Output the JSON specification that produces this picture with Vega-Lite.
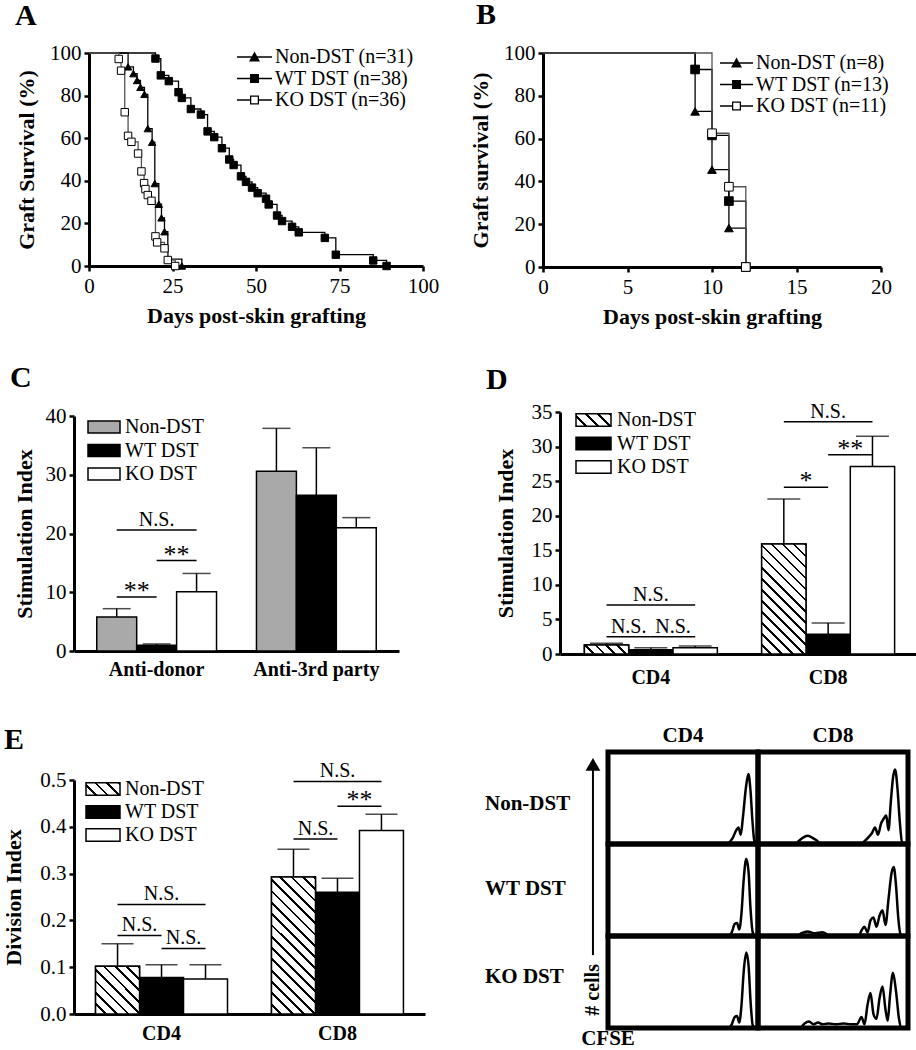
{
"$schema": "https://vega.github.io/schema/vega-lite/v6.json",
"padding": {"left": 2, "top": 0, "right": 0, "bottom": 0},
"background": "white",
"config": {
  "font": "Liberation Serif",
  "view": {"stroke": null},
  "axis": {"labelFont": "Liberation Serif", "labelFontSize": 21, "labelColor": "black", "titleFont": "Liberation Serif", "titleFontSize": 22, "titleFontWeight": "bold", "titleColor": "black", "domainColor": "black", "domainWidth": 3, "tickColor": "black", "tickWidth": 2.5, "tickSize": 5, "grid": false, "labelPadding": 3, "labelFlush": false},
  "legend": {"labelFont": "Liberation Serif", "labelFontSize": 20, "labelColor": "black"},
  "title": {"font": "Liberation Serif", "fontSize": 30, "fontWeight": "bold", "color": "black", "anchor": "start", "frame": "group", "baseline": "alphabetic"},
  "header": {"labelFont": "Liberation Serif", "labelFontSize": 21, "labelFontWeight": "bold", "labelColor": "black"},
  "text": {"font": "Liberation Serif", "color": "black"}
},
"spacing": 30,
"resolve": {"scale": {"fill": "independent", "shape": "independent", "stroke": "independent"}, "legend": {"fill": "independent", "shape": "independent", "stroke": "independent"}},
"hconcat": [
{
  "spacing": 37,
  "resolve": {"scale": {"fill": "independent", "shape": "independent", "stroke": "independent"}, "legend": {"fill": "independent", "shape": "independent", "stroke": "independent"}},
  "vconcat": [
  {
    "title": {"text": "A", "dx": -59, "offset": 11},
    "width": 349, "height": 213,
    "data": {"values": [
      {"group":"Non-DST (n=31)","day":0,"surv":100},
      {"group":"Non-DST (n=31)","day":11.7,"surv":93.5},
      {"group":"Non-DST (n=31)","day":13.3,"surv":90.3},
      {"group":"Non-DST (n=31)","day":14.4,"surv":87.1},
      {"group":"Non-DST (n=31)","day":15.4,"surv":83.9},
      {"group":"Non-DST (n=31)","day":16.6,"surv":80.6},
      {"group":"Non-DST (n=31)","day":17.6,"surv":64.5},
      {"group":"Non-DST (n=31)","day":18.9,"surv":58.1},
      {"group":"Non-DST (n=31)","day":19.7,"surv":38.7},
      {"group":"Non-DST (n=31)","day":20.9,"surv":29},
      {"group":"Non-DST (n=31)","day":21.7,"surv":22.6},
      {"group":"Non-DST (n=31)","day":22.6,"surv":16.1},
      {"group":"Non-DST (n=31)","day":23.6,"surv":3.2},
      {"group":"Non-DST (n=31)","day":27.8,"surv":0},
      {"group":"WT DST (n=38)","day":0,"surv":100},
      {"group":"WT DST (n=38)","day":19.9,"surv":97.4},
      {"group":"WT DST (n=38)","day":21.5,"surv":89.5},
      {"group":"WT DST (n=38)","day":23.9,"surv":86.8},
      {"group":"WT DST (n=38)","day":26.8,"surv":81.6},
      {"group":"WT DST (n=38)","day":27.8,"surv":78.9},
      {"group":"WT DST (n=38)","day":30.5,"surv":73.7},
      {"group":"WT DST (n=38)","day":33.5,"surv":71.1},
      {"group":"WT DST (n=38)","day":35.5,"surv":63.2},
      {"group":"WT DST (n=38)","day":37.5,"surv":60.5},
      {"group":"WT DST (n=38)","day":39.8,"surv":55.3},
      {"group":"WT DST (n=38)","day":42,"surv":50},
      {"group":"WT DST (n=38)","day":43.3,"surv":47.4},
      {"group":"WT DST (n=38)","day":45.5,"surv":42.1},
      {"group":"WT DST (n=38)","day":47,"surv":39.5},
      {"group":"WT DST (n=38)","day":48.8,"surv":36.8},
      {"group":"WT DST (n=38)","day":50.5,"surv":34.2},
      {"group":"WT DST (n=38)","day":53,"surv":31.6},
      {"group":"WT DST (n=38)","day":53.8,"surv":28.9},
      {"group":"WT DST (n=38)","day":56.3,"surv":23.7},
      {"group":"WT DST (n=38)","day":57.8,"surv":21.1},
      {"group":"WT DST (n=38)","day":60.8,"surv":18.4},
      {"group":"WT DST (n=38)","day":62.8,"surv":15.8},
      {"group":"WT DST (n=38)","day":70.6,"surv":13.2},
      {"group":"WT DST (n=38)","day":73.9,"surv":5.3},
      {"group":"WT DST (n=38)","day":85.1,"surv":2.6},
      {"group":"WT DST (n=38)","day":89.1,"surv":0},
      {"group":"KO DST (n=36)","day":0,"surv":100},
      {"group":"KO DST (n=36)","day":8.9,"surv":97.2},
      {"group":"KO DST (n=36)","day":9.6,"surv":91.7},
      {"group":"KO DST (n=36)","day":10.7,"surv":72.2},
      {"group":"KO DST (n=36)","day":11.7,"surv":61.1},
      {"group":"KO DST (n=36)","day":12.7,"surv":58.3},
      {"group":"KO DST (n=36)","day":14.7,"surv":52.8},
      {"group":"KO DST (n=36)","day":15.7,"surv":44.4},
      {"group":"KO DST (n=36)","day":16.5,"surv":38.9},
      {"group":"KO DST (n=36)","day":16.9,"surv":36.1},
      {"group":"KO DST (n=36)","day":17.6,"surv":33.3},
      {"group":"KO DST (n=36)","day":18.7,"surv":30.6},
      {"group":"KO DST (n=36)","day":19.9,"surv":13.9},
      {"group":"KO DST (n=36)","day":20.4,"surv":11.1},
      {"group":"KO DST (n=36)","day":22.6,"surv":8.3},
      {"group":"KO DST (n=36)","day":23.6,"surv":2.8},
      {"group":"KO DST (n=36)","day":25.8,"surv":0}
    ]},
    "encoding": {
      "x": {"field":"day","type":"quantitative","scale":{"domain":[0,100],"range":[15,349],"nice":false,"zero":false},"axis":{"values":[0,25,50,75,100],"title":"Days post-skin grafting","titlePadding":9,"labelPadding":4}},
      "y": {"field":"surv","type":"quantitative","scale":{"domain":[0,100],"nice":false},"axis":{"values":[0,20,40,60,80,100],"title":"Graft Survival (%)","titlePadding":11,"offset":-15}}
    },
    "layer": [
      {"mark":{"type":"line","interpolate":"step-after","strokeWidth":1.3},
       "encoding":{"detail":{"field":"group"},"stroke":{"field":"group","type":"nominal","scale":{"domain":["Non-DST (n=31)","WT DST (n=38)","KO DST (n=36)"],"range":["black","black","#555555"]},"legend":null}}},
      {"transform":[{"filter":"datum.day > 0"}],
       "mark":{"type":"point","filled":true,"stroke":"black","strokeWidth":1,"size":55,"opacity":1},
       "encoding":{"shape":{"field":"group","type":"nominal","scale":{"domain":["Non-DST (n=31)","WT DST (n=38)","KO DST (n=36)"],"range":["triangle-up","square","square"]},"legend":null},
                   "fill":{"field":"group","type":"nominal","scale":{"domain":["Non-DST (n=31)","WT DST (n=38)","KO DST (n=36)"],"range":["black","black","white"]},"legend":null}}},
      {"transform":[{"filter":"false"}],
       "mark":{"type":"point","filled":true,"color":"black"},
       "encoding":{"shape":{"field":"group","type":"nominal","scale":{"domain":["Non-DST (n=31)","WT DST (n=38)","KO DST (n=36)"],"range":["M-3.5,-0.15H3.5V0.15H-3.5ZM0,-1.1L1.1,0.9H-1.1Z","M-3.5,-0.15H3.5V0.15H-3.5ZM-0.9,-0.9H0.9V0.9H-0.9Z","M-3.5,-0.15H-0.9V0.15H-3.5ZM0.9,-0.15H3.5V0.15H0.9ZM-0.9,-0.9H0.9V0.9H-0.9ZM-0.65,-0.65V0.65H0.65V-0.65Z"]},
                      "legend":{"title":null,"orient":"none","legendX":163,"legendY":-6,"symbolSize":100,"symbolOpacity":1,"symbolFillColor":"black","symbolStrokeWidth":0,"labelFontSize":20,"symbolOffset":7.5,"labelOffset":10.5,"rowPadding":1.5,"padding":0}}}}
    ],
    "resolve": {"scale": {"shape": "independent"}}
  },
  {
    "spacing": 45,
    "resolve": {"scale": {"fill": "independent", "shape": "independent", "stroke": "independent"}, "legend": {"fill": "independent", "shape": "independent", "stroke": "independent"}},
    "vconcat": [
    {
      "title": {"text": "C", "dx": -64, "offset": 12},
      "width": 325, "height": 235,
      "layer": [
        {
          "data": {"values": [
            {"grp":"Anti-donor","trt":"Non-DST","mean":5.8,"hi":7.2},
            {"grp":"Anti-donor","trt":"WT DST","mean":1.0,"hi":1.2},
            {"grp":"Anti-donor","trt":"KO DST","mean":10.1,"hi":13.2},
            {"grp":"Anti-3rd party","trt":"Non-DST","mean":30.6,"hi":37.9},
            {"grp":"Anti-3rd party","trt":"WT DST","mean":26.5,"hi":34.6},
            {"grp":"Anti-3rd party","trt":"KO DST","mean":21.0,"hi":22.7}
          ]},
          "transform": [{"calculate": "datum.grp + '|' + datum.trt", "as": "slot"}],
          "encoding": {
            "x": {"field":"slot","type":"nominal","scale":{"domain":["Anti-donor|Non-DST","Anti-donor|WT DST","Anti-donor|KO DST","gap","Anti-3rd party|Non-DST","Anti-3rd party|WT DST","Anti-3rd party|KO DST"],"paddingInner":0,"paddingOuter":0.57},
                  "axis":{"title":null,"ticks":false,"labelAngle":0,"labelFontWeight":"bold","labelFontSize":20,"labelPadding":8,"labelOverlap":false,"labelExpr":"indexof(datum.value, 'WT DST') >= 0 ? split(datum.value, '|')[0] : ''"}},
            "y": {"field":"mean","type":"quantitative","scale":{"domain":[0,40],"nice":false},"axis":{"values":[0,10,20,30,40],"title":"Stimulation Index","titlePadding":9}}
          },
          "layer": [
            {"mark":{"type":"bar","stroke":"black","strokeWidth":1.5},
             "encoding":{"fill":{"field":"trt","type":"nominal","scale":{"domain":["Non-DST","WT DST","KO DST"],"range":["#a9a9a9","black","white"]},
               "legend":{"title":null,"orient":"none","legendX":14,"legendY":1,"symbolType":"M-3.2,-1.2H3.2V1.2H-3.2Z","symbolSize":100,"symbolStrokeColor":"black","symbolStrokeWidth":1.5,"labelFontSize":20,"symbolOffset":6,"labelOffset":11,"rowPadding":3.5,"padding":0}}}},
            {"mark":{"type":"rule","strokeWidth":1.5,"color":"black"},"encoding":{"y2":{"field":"hi"}}},
            {"mark":{"type":"tick","thickness":1.5,"size":28,"color":"black"},"encoding":{"y":{"field":"hi","type":"quantitative","scale":{"domain":[0,40],"nice":false},"axis":{"values":[0,10,20,30,40],"title":"Stimulation Index","titlePadding":9}}}}
          ]
        },
        {
          "data": {"values": [
            {"a":"Anti-donor|Non-DST","b":"Anti-donor|WT DST","y":9.2,"label":"**","span":1},
            {"a":"Anti-donor|WT DST","b":"Anti-donor|KO DST","y":15.4,"label":"**","span":1},
            {"a":"Anti-donor|Non-DST","b":"Anti-donor|KO DST","y":20.6,"label":"N.S.","span":2}
          ]},
          "encoding": {"y": {"field":"y","type":"quantitative","scale":{"domain":[0,40],"nice":false},"axis":{"values":[0,10,20,30,40],"title":"Stimulation Index","titlePadding":9}}},
          "layer": [
            {"mark":{"type":"rule","strokeWidth":1.5,"color":"black"},
             "encoding":{"x":{"field":"a","type":"nominal","scale":{"domain":["Anti-donor|Non-DST","Anti-donor|WT DST","Anti-donor|KO DST","gap","Anti-3rd party|Non-DST","Anti-3rd party|WT DST","Anti-3rd party|KO DST"],"paddingInner":0,"paddingOuter":0.57},"axis":{"title":null,"ticks":false,"labelAngle":0,"labelFontWeight":"bold","labelFontSize":20,"labelPadding":8,"labelOverlap":false,"labelExpr":"indexof(datum.value, 'WT DST') >= 0 ? split(datum.value, '|')[0] : ''"}},"x2":{"field":"b"}}},
            {"transform":[{"filter":"datum.span == 2"}],
             "mark":{"type":"text","fontSize":20,"baseline":"alphabetic","dy":-4},
             "encoding":{"x":{"field":"a","type":"nominal","bandPosition":1.5,"scale":{"domain":["Anti-donor|Non-DST","Anti-donor|WT DST","Anti-donor|KO DST","gap","Anti-3rd party|Non-DST","Anti-3rd party|WT DST","Anti-3rd party|KO DST"],"paddingInner":0,"paddingOuter":0.57},"axis":{"title":null,"ticks":false,"labelAngle":0,"labelFontWeight":"bold","labelFontSize":20,"labelPadding":8,"labelOverlap":false,"labelExpr":"indexof(datum.value, 'WT DST') >= 0 ? split(datum.value, '|')[0] : ''"}},"text":{"field":"label"}}},
            {"transform":[{"filter":"datum.span == 1 && datum.label != 'N.S.'"}],
             "mark":{"type":"text","fontSize":26,"baseline":"alphabetic","dy":2},
             "encoding":{"x":{"field":"a","type":"nominal","bandPosition":1,"scale":{"domain":["Anti-donor|Non-DST","Anti-donor|WT DST","Anti-donor|KO DST","gap","Anti-3rd party|Non-DST","Anti-3rd party|WT DST","Anti-3rd party|KO DST"],"paddingInner":0,"paddingOuter":0.57},"axis":{"title":null,"ticks":false,"labelAngle":0,"labelFontWeight":"bold","labelFontSize":20,"labelPadding":8,"labelOverlap":false,"labelExpr":"indexof(datum.value, 'WT DST') >= 0 ? split(datum.value, '|')[0] : ''"}},"text":{"field":"label"}}}
          ]
        }
      ]
    },
    {
      "title": {"text": "E", "dx": -70, "offset": 6.5},
      "width": 351, "height": 234,
      "layer": [
        {
          "data": {"values": [
            {"grp":"CD4","trt":"Non-DST","mean":0.102,"hi":0.15},
            {"grp":"CD4","trt":"WT DST","mean":0.078,"hi":0.105},
            {"grp":"CD4","trt":"KO DST","mean":0.075,"hi":0.105},
            {"grp":"CD8","trt":"Non-DST","mean":0.293,"hi":0.352},
            {"grp":"CD8","trt":"WT DST","mean":0.26,"hi":0.29},
            {"grp":"CD8","trt":"KO DST","mean":0.392,"hi":0.427}
          ]},
          "transform": [{"calculate": "datum.grp + '|' + datum.trt", "as": "slot"}],
          "encoding": {
            "x": {"field":"slot","type":"nominal","scale":{"domain":["CD4|Non-DST","CD4|WT DST","CD4|KO DST","gap","CD8|Non-DST","CD8|WT DST","CD8|KO DST"],"paddingInner":0,"paddingOuter":0.49},
                  "axis":{"title":null,"ticks":false,"labelAngle":0,"labelFontWeight":"bold","labelFontSize":20,"labelPadding":9,"labelOverlap":false,"labelExpr":"indexof(datum.value, 'WT DST') >= 0 ? split(datum.value, '|')[0] : ''"}},
            "y": {"field":"mean","type":"quantitative","scale":{"domain":[0,0.5],"nice":false},"axis":{"values":[0,0.1,0.2,0.3,0.4,0.5],"format":".1f","title":"Division Index","titlePadding":14}}
          },
          "layer": [
            {"mark":{"type":"bar","stroke":"black","strokeWidth":1.5},
             "encoding":{"fill":{"field":"trt","type":"nominal","scale":{"domain":["Non-DST","WT DST","KO DST"],"range":[{"expr":"{gradient:'linear',x1:1,y1:0,x2:-0.205,y2:0.443,stops:[{offset:0,color:'#000'},{offset:0.0625,color:'#000'},{offset:0.0625,color:'#fff'},{offset:0.25,color:'#fff'},{offset:0.25,color:'#000'},{offset:0.3125,color:'#000'},{offset:0.3125,color:'#fff'},{offset:0.5,color:'#fff'},{offset:0.5,color:'#000'},{offset:0.5625,color:'#000'},{offset:0.5625,color:'#fff'},{offset:0.75,color:'#fff'},{offset:0.75,color:'#000'},{offset:0.8125,color:'#000'},{offset:0.8125,color:'#fff'},{offset:1,color:'#fff'}]}"},"black","white"]},
               "legend":{"title":null,"orient":"none","legendX":12,"legendY":-1,"symbolType":"M-3.4,-1.25H3.4V1.25H-3.4Z","symbolSize":100,"symbolStrokeColor":"black","symbolStrokeWidth":1.5,"labelFontSize":20,"symbolOffset":7,"labelOffset":12,"rowPadding":3,"padding":0}}}},
            {"transform":[{"filter":"datum.trt == 'Non-DST' && datum.grp == 'CD4'"}],
             "mark":{"type":"bar","stroke":"black","strokeWidth":1.5,"fill":{"gradient":"linear","x1":1,"y1":0,"x2":0.042,"y2":1.039,"stops":[
               {"offset":0,"color":"#000"},{"offset":0.0313,"color":"#000"},{"offset":0.0313,"color":"#fff"},{"offset":0.125,"color":"#fff"},
               {"offset":0.125,"color":"#000"},{"offset":0.1563,"color":"#000"},{"offset":0.1563,"color":"#fff"},{"offset":0.25,"color":"#fff"},
               {"offset":0.25,"color":"#000"},{"offset":0.2813,"color":"#000"},{"offset":0.2813,"color":"#fff"},{"offset":0.375,"color":"#fff"},
               {"offset":0.375,"color":"#000"},{"offset":0.4063,"color":"#000"},{"offset":0.4063,"color":"#fff"},{"offset":0.5,"color":"#fff"},
               {"offset":0.5,"color":"#000"},{"offset":0.5313,"color":"#000"},{"offset":0.5313,"color":"#fff"},{"offset":0.625,"color":"#fff"},
               {"offset":0.625,"color":"#000"},{"offset":0.6563,"color":"#000"},{"offset":0.6563,"color":"#fff"},{"offset":0.75,"color":"#fff"},
               {"offset":0.75,"color":"#000"},{"offset":0.7813,"color":"#000"},{"offset":0.7813,"color":"#fff"},{"offset":0.875,"color":"#fff"},
               {"offset":0.875,"color":"#000"},{"offset":0.9063,"color":"#000"},{"offset":0.9063,"color":"#fff"},{"offset":1,"color":"#fff"}]}}},
            {"transform":[{"filter":"datum.trt == 'Non-DST' && datum.grp == 'CD8'"}],
             "mark":{"type":"bar","stroke":"black","strokeWidth":1.5,"fill":{"gradient":"linear","x1":1,"y1":0,"x2":0.616,"y2":1.198,"stops":[
               {"offset":0,"color":"#000"},{"offset":0.0156,"color":"#000"},{"offset":0.0156,"color":"#fff"},{"offset":0.0625,"color":"#fff"},
               {"offset":0.0625,"color":"#000"},{"offset":0.0781,"color":"#000"},{"offset":0.0781,"color":"#fff"},{"offset":0.125,"color":"#fff"},
               {"offset":0.125,"color":"#000"},{"offset":0.1406,"color":"#000"},{"offset":0.1406,"color":"#fff"},{"offset":0.1875,"color":"#fff"},
               {"offset":0.1875,"color":"#000"},{"offset":0.2031,"color":"#000"},{"offset":0.2031,"color":"#fff"},{"offset":0.25,"color":"#fff"},
               {"offset":0.25,"color":"#000"},{"offset":0.2656,"color":"#000"},{"offset":0.2656,"color":"#fff"},{"offset":0.3125,"color":"#fff"},
               {"offset":0.3125,"color":"#000"},{"offset":0.3281,"color":"#000"},{"offset":0.3281,"color":"#fff"},{"offset":0.375,"color":"#fff"},
               {"offset":0.375,"color":"#000"},{"offset":0.3906,"color":"#000"},{"offset":0.3906,"color":"#fff"},{"offset":0.4375,"color":"#fff"},
               {"offset":0.4375,"color":"#000"},{"offset":0.4531,"color":"#000"},{"offset":0.4531,"color":"#fff"},{"offset":0.5,"color":"#fff"},
               {"offset":0.5,"color":"#000"},{"offset":0.5156,"color":"#000"},{"offset":0.5156,"color":"#fff"},{"offset":0.5625,"color":"#fff"},
               {"offset":0.5625,"color":"#000"},{"offset":0.5781,"color":"#000"},{"offset":0.5781,"color":"#fff"},{"offset":0.625,"color":"#fff"},
               {"offset":0.625,"color":"#000"},{"offset":0.6406,"color":"#000"},{"offset":0.6406,"color":"#fff"},{"offset":0.6875,"color":"#fff"},
               {"offset":0.6875,"color":"#000"},{"offset":0.7031,"color":"#000"},{"offset":0.7031,"color":"#fff"},{"offset":0.75,"color":"#fff"},
               {"offset":0.75,"color":"#000"},{"offset":0.7656,"color":"#000"},{"offset":0.7656,"color":"#fff"},{"offset":0.8125,"color":"#fff"},
               {"offset":0.8125,"color":"#000"},{"offset":0.8281,"color":"#000"},{"offset":0.8281,"color":"#fff"},{"offset":0.875,"color":"#fff"},
               {"offset":0.875,"color":"#000"},{"offset":0.8906,"color":"#000"},{"offset":0.8906,"color":"#fff"},{"offset":0.9375,"color":"#fff"},
               {"offset":0.9375,"color":"#000"},{"offset":0.9531,"color":"#000"},{"offset":0.9531,"color":"#fff"},{"offset":1,"color":"#fff"}]}}},
            {"mark":{"type":"rule","strokeWidth":1.5,"color":"black"},"encoding":{"y2":{"field":"hi"}}},
            {"mark":{"type":"tick","thickness":1.5,"size":32,"color":"black"},"encoding":{"y":{"field":"hi","type":"quantitative","scale":{"domain":[0,0.5],"nice":false},"axis":{"values":[0,0.1,0.2,0.3,0.4,0.5],"format":".1f","title":"Division Index","titlePadding":14}}}}
          ]
        },
        {
          "data": {"values": [
            {"a":"CD4|Non-DST","b":"CD4|WT DST","y":0.168,"label":"N.S.","span":1},
            {"a":"CD4|WT DST","b":"CD4|KO DST","y":0.14,"label":"N.S.","span":1},
            {"a":"CD4|Non-DST","b":"CD4|KO DST","y":0.234,"label":"N.S.","span":2},
            {"a":"CD8|Non-DST","b":"CD8|WT DST","y":0.374,"label":"N.S.","span":1},
            {"a":"CD8|WT DST","b":"CD8|KO DST","y":0.444,"label":"**","span":1},
            {"a":"CD8|Non-DST","b":"CD8|KO DST","y":0.497,"label":"N.S.","span":2}
          ]},
          "encoding": {"y": {"field":"y","type":"quantitative","scale":{"domain":[0,0.5],"nice":false},"axis":{"values":[0,0.1,0.2,0.3,0.4,0.5],"format":".1f","title":"Division Index","titlePadding":14}}},
          "layer": [
            {"mark":{"type":"rule","strokeWidth":1.5,"color":"black"},
             "encoding":{"x":{"field":"a","type":"nominal","scale":{"domain":["CD4|Non-DST","CD4|WT DST","CD4|KO DST","gap","CD8|Non-DST","CD8|WT DST","CD8|KO DST"],"paddingInner":0,"paddingOuter":0.49},"axis":{"title":null,"ticks":false,"labelAngle":0,"labelFontWeight":"bold","labelFontSize":20,"labelPadding":9,"labelOverlap":false,"labelExpr":"indexof(datum.value, 'WT DST') >= 0 ? split(datum.value, '|')[0] : ''"}},"x2":{"field":"b"}}},
            {"transform":[{"filter":"datum.span == 2"}],
             "mark":{"type":"text","fontSize":20,"baseline":"alphabetic","dy":-4},
             "encoding":{"x":{"field":"a","type":"nominal","bandPosition":1.5,"scale":{"domain":["CD4|Non-DST","CD4|WT DST","CD4|KO DST","gap","CD8|Non-DST","CD8|WT DST","CD8|KO DST"],"paddingInner":0,"paddingOuter":0.49},"axis":{"title":null,"ticks":false,"labelAngle":0,"labelFontWeight":"bold","labelFontSize":20,"labelPadding":9,"labelOverlap":false,"labelExpr":"indexof(datum.value, 'WT DST') >= 0 ? split(datum.value, '|')[0] : ''"}},"text":{"field":"label"}}},
            {"transform":[{"filter":"datum.span == 1 && datum.label == 'N.S.'"}],
             "mark":{"type":"text","fontSize":20,"baseline":"alphabetic","dy":-4},
             "encoding":{"x":{"field":"a","type":"nominal","bandPosition":1,"scale":{"domain":["CD4|Non-DST","CD4|WT DST","CD4|KO DST","gap","CD8|Non-DST","CD8|WT DST","CD8|KO DST"],"paddingInner":0,"paddingOuter":0.49},"axis":{"title":null,"ticks":false,"labelAngle":0,"labelFontWeight":"bold","labelFontSize":20,"labelPadding":9,"labelOverlap":false,"labelExpr":"indexof(datum.value, 'WT DST') >= 0 ? split(datum.value, '|')[0] : ''"}},"text":{"field":"label"}}},
            {"transform":[{"filter":"datum.span == 1 && datum.label != 'N.S.'"}],
             "mark":{"type":"text","fontSize":26,"baseline":"alphabetic","dy":2},
             "encoding":{"x":{"field":"a","type":"nominal","bandPosition":1,"scale":{"domain":["CD4|Non-DST","CD4|WT DST","CD4|KO DST","gap","CD8|Non-DST","CD8|WT DST","CD8|KO DST"],"paddingInner":0,"paddingOuter":0.49},"axis":{"title":null,"ticks":false,"labelAngle":0,"labelFontWeight":"bold","labelFontSize":20,"labelPadding":9,"labelOverlap":false,"labelExpr":"indexof(datum.value, 'WT DST') >= 0 ? split(datum.value, '|')[0] : ''"}},"text":{"field":"label"}}}
          ]
        }
      ]
    }
    ]
  }
  ]
},
{
  "spacing": 38,
  "resolve": {"scale": {"fill": "independent", "shape": "independent", "stroke": "independent"}, "legend": {"fill": "independent", "shape": "independent", "stroke": "independent"}},
  "vconcat": [
  {
    "title": {"text": "B", "dx": -67, "offset": 12},
    "width": 338, "height": 214,
    "data": {"values": [
      {"group":"Non-DST (n=8)","day":0,"surv":100},
      {"group":"Non-DST (n=8)","day":9,"surv":72.7},
      {"group":"Non-DST (n=8)","day":10,"surv":45.5},
      {"group":"Non-DST (n=8)","day":11,"surv":18.2},
      {"group":"Non-DST (n=8)","day":12,"surv":0},
      {"group":"WT DST (n=13)","day":0,"surv":100},
      {"group":"WT DST (n=13)","day":9,"surv":92.3},
      {"group":"WT DST (n=13)","day":10,"surv":61.5},
      {"group":"WT DST (n=13)","day":11,"surv":30.8},
      {"group":"WT DST (n=13)","day":12,"surv":0},
      {"group":"KO DST (n=11)","day":0,"surv":100},
      {"group":"KO DST (n=11)","day":10,"surv":62.5},
      {"group":"KO DST (n=11)","day":11,"surv":37.5},
      {"group":"KO DST (n=11)","day":12,"surv":0}
    ]},
    "encoding": {
      "x": {"field":"day","type":"quantitative","scale":{"domain":[0,20],"nice":false,"zero":false},"axis":{"values":[0,5,10,15,20],"title":"Days post-skin grafting","titlePadding":9,"labelPadding":4}},
      "y": {"field":"surv","type":"quantitative","scale":{"domain":[0,100],"nice":false},"axis":{"values":[0,20,40,60,80,100],"title":"Graft survival (%)","titlePadding":11}}
    },
    "layer": [
      {"mark":{"type":"line","interpolate":"step-after","strokeWidth":1.3},
       "encoding":{"detail":{"field":"group"},"stroke":{"field":"group","type":"nominal","scale":{"domain":["Non-DST (n=8)","WT DST (n=13)","KO DST (n=11)"],"range":["black","black","#555555"]},"legend":null}}},
      {"transform":[{"filter":"datum.day > 0"}],
       "mark":{"type":"point","filled":true,"stroke":"black","strokeWidth":1,"size":75,"opacity":1},
       "encoding":{"shape":{"field":"group","type":"nominal","scale":{"domain":["Non-DST (n=8)","WT DST (n=13)","KO DST (n=11)"],"range":["triangle-up","square","square"]},"legend":null},
                   "fill":{"field":"group","type":"nominal","scale":{"domain":["Non-DST (n=8)","WT DST (n=13)","KO DST (n=11)"],"range":["black","black","white"]},"legend":null}}},
      {"transform":[{"filter":"false"}],
       "mark":{"type":"point","filled":true,"color":"black"},
       "encoding":{"shape":{"field":"group","type":"nominal","scale":{"domain":["Non-DST (n=8)","WT DST (n=13)","KO DST (n=11)"],"range":["M-3.3,-0.15H3.3V0.15H-3.3ZM0,-1.1L1.1,0.9H-1.1Z","M-3.3,-0.15H3.3V0.15H-3.3ZM-0.9,-0.9H0.9V0.9H-0.9Z","M-3.3,-0.15H-0.9V0.15H-3.3ZM0.9,-0.15H3.3V0.15H0.9ZM-0.9,-0.9H0.9V0.9H-0.9ZM-0.65,-0.65V0.65H0.65V-0.65Z"]},
                      "legend":{"title":null,"orient":"none","legendX":177,"legendY":0,"symbolSize":100,"symbolOpacity":1,"symbolFillColor":"black","symbolStrokeWidth":0,"labelFontSize":20,"symbolOffset":6.5,"labelOffset":9.5,"rowPadding":1.5,"padding":0}}}}
    ],
    "resolve": {"scale": {"shape": "independent"}}
  },
  {
    "title": {"text": "D", "dx": -57, "offset": 6},
    "width": 376, "height": 242,
    "layer": [
      {
        "data": {"values": [
          {"grp":"CD4","trt":"Non-DST","mean":1.3,"hi":1.55},
          {"grp":"CD4","trt":"WT DST","mean":0.6,"hi":0.9},
          {"grp":"CD4","trt":"KO DST","mean":0.9,"hi":1.15},
          {"grp":"CD8","trt":"Non-DST","mean":15.9,"hi":22.4},
          {"grp":"CD8","trt":"WT DST","mean":2.85,"hi":4.5},
          {"grp":"CD8","trt":"KO DST","mean":27.1,"hi":31.5}
        ]},
        "transform": [{"calculate": "datum.grp + '|' + datum.trt", "as": "slot"}],
        "encoding": {
          "x": {"field":"slot","type":"nominal","scale":{"domain":["CD4|Non-DST","CD4|WT DST","CD4|KO DST","gap","CD8|Non-DST","CD8|WT DST","CD8|KO DST"],"range":[17,376],"paddingInner":0,"paddingOuter":0.55},
                "axis":{"title":null,"ticks":false,"labelAngle":0,"labelFontWeight":"bold","labelFontSize":20,"labelPadding":13,"labelOverlap":false,"labelExpr":"indexof(datum.value, 'WT DST') >= 0 ? split(datum.value, '|')[0] : ''"}},
          "y": {"field":"mean","type":"quantitative","scale":{"domain":[0,35],"nice":false},"axis":{"values":[0,5,10,15,20,25,30,35],"title":"Stimulation Index","titlePadding":14,"offset":-17}}
        },
        "layer": [
          {"mark":{"type":"bar","stroke":"black","strokeWidth":1.5},
           "encoding":{"fill":{"field":"trt","type":"nominal","scale":{"domain":["Non-DST","WT DST","KO DST"],"range":[{"expr":"{gradient:'linear',x1:1,y1:0,x2:-0.205,y2:0.443,stops:[{offset:0,color:'#000'},{offset:0.0625,color:'#000'},{offset:0.0625,color:'#fff'},{offset:0.25,color:'#fff'},{offset:0.25,color:'#000'},{offset:0.3125,color:'#000'},{offset:0.3125,color:'#fff'},{offset:0.5,color:'#fff'},{offset:0.5,color:'#000'},{offset:0.5625,color:'#000'},{offset:0.5625,color:'#fff'},{offset:0.75,color:'#fff'},{offset:0.75,color:'#000'},{offset:0.8125,color:'#000'},{offset:0.8125,color:'#fff'},{offset:1,color:'#fff'}]}"},"black","white"]},
             "legend":{"title":null,"orient":"none","legendX":33,"legendY":-2,"symbolType":"M-3.5,-1.25H3.5V1.25H-3.5Z","symbolSize":100,"symbolStrokeColor":"black","symbolStrokeWidth":1.5,"labelFontSize":20,"symbolOffset":7.5,"labelOffset":13.5,"rowPadding":3.5,"padding":0}}}},
          {"transform":[{"filter":"datum.trt == 'Non-DST' && datum.grp == 'CD4'"}],
           "mark":{"type":"bar","stroke":"black","strokeWidth":1.5,"fill":{"gradient":"linear","x1":1,"y1":0,"x2":-0.156,"y2":0.235,"stops":[
             {"offset":0,"color":"#000"},{"offset":0.05,"color":"#000"},{"offset":0.05,"color":"#fff"},{"offset":0.2,"color":"#fff"},
             {"offset":0.2,"color":"#000"},{"offset":0.25,"color":"#000"},{"offset":0.25,"color":"#fff"},{"offset":0.4,"color":"#fff"},
             {"offset":0.4,"color":"#000"},{"offset":0.45,"color":"#000"},{"offset":0.45,"color":"#fff"},{"offset":0.6,"color":"#fff"},
             {"offset":0.6,"color":"#000"},{"offset":0.65,"color":"#000"},{"offset":0.65,"color":"#fff"},{"offset":0.8,"color":"#fff"},
             {"offset":0.8,"color":"#000"},{"offset":0.85,"color":"#000"},{"offset":0.85,"color":"#fff"},{"offset":1,"color":"#fff"}]}}},
          {"transform":[{"filter":"datum.trt == 'Non-DST' && datum.grp == 'CD8'"}],
           "mark":{"type":"bar","stroke":"black","strokeWidth":1.5,"fill":{"gradient":"linear","x1":1,"y1":0,"x2":0.513,"y2":1.208,"stops":[
             {"offset":0,"color":"#000"},{"offset":0.0179,"color":"#000"},{"offset":0.0179,"color":"#fff"},{"offset":0.0714,"color":"#fff"},
             {"offset":0.0714,"color":"#000"},{"offset":0.0893,"color":"#000"},{"offset":0.0893,"color":"#fff"},{"offset":0.1429,"color":"#fff"},
             {"offset":0.1429,"color":"#000"},{"offset":0.1607,"color":"#000"},{"offset":0.1607,"color":"#fff"},{"offset":0.2143,"color":"#fff"},
             {"offset":0.2143,"color":"#000"},{"offset":0.2321,"color":"#000"},{"offset":0.2321,"color":"#fff"},{"offset":0.2857,"color":"#fff"},
             {"offset":0.2857,"color":"#000"},{"offset":0.3036,"color":"#000"},{"offset":0.3036,"color":"#fff"},{"offset":0.3571,"color":"#fff"},
             {"offset":0.3571,"color":"#000"},{"offset":0.375,"color":"#000"},{"offset":0.375,"color":"#fff"},{"offset":0.4286,"color":"#fff"},
             {"offset":0.4286,"color":"#000"},{"offset":0.4464,"color":"#000"},{"offset":0.4464,"color":"#fff"},{"offset":0.5,"color":"#fff"},
             {"offset":0.5,"color":"#000"},{"offset":0.5179,"color":"#000"},{"offset":0.5179,"color":"#fff"},{"offset":0.5714,"color":"#fff"},
             {"offset":0.5714,"color":"#000"},{"offset":0.5893,"color":"#000"},{"offset":0.5893,"color":"#fff"},{"offset":0.6429,"color":"#fff"},
             {"offset":0.6429,"color":"#000"},{"offset":0.6607,"color":"#000"},{"offset":0.6607,"color":"#fff"},{"offset":0.7143,"color":"#fff"},
             {"offset":0.7143,"color":"#000"},{"offset":0.7321,"color":"#000"},{"offset":0.7321,"color":"#fff"},{"offset":0.7857,"color":"#fff"},
             {"offset":0.7857,"color":"#000"},{"offset":0.8036,"color":"#000"},{"offset":0.8036,"color":"#fff"},{"offset":0.8571,"color":"#fff"},
             {"offset":0.8571,"color":"#000"},{"offset":0.875,"color":"#000"},{"offset":0.875,"color":"#fff"},{"offset":0.9286,"color":"#fff"},
             {"offset":0.9286,"color":"#000"},{"offset":0.9464,"color":"#000"},{"offset":0.9464,"color":"#fff"},{"offset":1,"color":"#fff"}]}}},
          {"mark":{"type":"rule","strokeWidth":1.5,"color":"black"},"encoding":{"y2":{"field":"hi"}}},
          {"mark":{"type":"tick","thickness":1.5,"size":33,"color":"black"},"encoding":{"y":{"field":"hi","type":"quantitative","scale":{"domain":[0,35],"nice":false},"axis":{"values":[0,5,10,15,20,25,30,35],"title":"Stimulation Index","titlePadding":14,"offset":-17}}}}
        ]
      },
      {
        "data": {"values": [
          {"a":"CD4|Non-DST","b":"CD4|WT DST","y":2.5,"label":"N.S.","span":1},
          {"a":"CD4|WT DST","b":"CD4|KO DST","y":2.5,"label":"N.S.","span":1},
          {"a":"CD4|Non-DST","b":"CD4|KO DST","y":7.1,"label":"N.S.","span":2},
          {"a":"CD8|Non-DST","b":"CD8|WT DST","y":24.1,"label":"*","span":1},
          {"a":"CD8|WT DST","b":"CD8|KO DST","y":28.8,"label":"**","span":1},
          {"a":"CD8|Non-DST","b":"CD8|KO DST","y":33.6,"label":"N.S.","span":2}
        ]},
        "encoding": {"y": {"field":"y","type":"quantitative","scale":{"domain":[0,35],"nice":false},"axis":{"values":[0,5,10,15,20,25,30,35],"title":"Stimulation Index","titlePadding":14,"offset":-17}}},
        "layer": [
          {"mark":{"type":"rule","strokeWidth":1.5,"color":"black"},
           "encoding":{"x":{"field":"a","type":"nominal","scale":{"domain":["CD4|Non-DST","CD4|WT DST","CD4|KO DST","gap","CD8|Non-DST","CD8|WT DST","CD8|KO DST"],"range":[17,376],"paddingInner":0,"paddingOuter":0.55},"axis":{"title":null,"ticks":false,"labelAngle":0,"labelFontWeight":"bold","labelFontSize":20,"labelPadding":13,"labelOverlap":false,"labelExpr":"indexof(datum.value, 'WT DST') >= 0 ? split(datum.value, '|')[0] : ''"}},"x2":{"field":"b"}}},
          {"transform":[{"filter":"datum.span == 2"}],
           "mark":{"type":"text","fontSize":20,"baseline":"alphabetic","dy":-4},
           "encoding":{"x":{"field":"a","type":"nominal","bandPosition":1.5,"scale":{"domain":["CD4|Non-DST","CD4|WT DST","CD4|KO DST","gap","CD8|Non-DST","CD8|WT DST","CD8|KO DST"],"range":[17,376],"paddingInner":0,"paddingOuter":0.55},"axis":{"title":null,"ticks":false,"labelAngle":0,"labelFontWeight":"bold","labelFontSize":20,"labelPadding":13,"labelOverlap":false,"labelExpr":"indexof(datum.value, 'WT DST') >= 0 ? split(datum.value, '|')[0] : ''"}},"text":{"field":"label"}}},
          {"transform":[{"filter":"datum.span == 1 && datum.label == 'N.S.'"}],
           "mark":{"type":"text","fontSize":20,"baseline":"alphabetic","dy":-4},
           "encoding":{"x":{"field":"a","type":"nominal","bandPosition":1,"scale":{"domain":["CD4|Non-DST","CD4|WT DST","CD4|KO DST","gap","CD8|Non-DST","CD8|WT DST","CD8|KO DST"],"range":[17,376],"paddingInner":0,"paddingOuter":0.55},"axis":{"title":null,"ticks":false,"labelAngle":0,"labelFontWeight":"bold","labelFontSize":20,"labelPadding":13,"labelOverlap":false,"labelExpr":"indexof(datum.value, 'WT DST') >= 0 ? split(datum.value, '|')[0] : ''"}},"text":{"field":"label"}}},
          {"transform":[{"filter":"datum.span == 1 && datum.label != 'N.S.'"}],
           "mark":{"type":"text","fontSize":26,"baseline":"alphabetic","dy":2},
           "encoding":{"x":{"field":"a","type":"nominal","bandPosition":1,"scale":{"domain":["CD4|Non-DST","CD4|WT DST","CD4|KO DST","gap","CD8|Non-DST","CD8|WT DST","CD8|KO DST"],"range":[17,376],"paddingInner":0,"paddingOuter":0.55},"axis":{"title":null,"ticks":false,"labelAngle":0,"labelFontWeight":"bold","labelFontSize":20,"labelPadding":13,"labelOverlap":false,"labelExpr":"indexof(datum.value, 'WT DST') >= 0 ? split(datum.value, '|')[0] : ''"}},"text":{"field":"label"}}}
        ]
      }
    ]
  },
  {
    "spacing": 0,
    "bounds": "flush",
    "hconcat": [
      {
        "width": 65, "height": 276,
        "data": {"values": [{}]},
        "layer": [
          {"mark":{"type":"text","text":"Non-DST","align":"left","dx":15,"fontWeight":"bold","fontSize":21,"baseline":"middle"},
           "encoding":{"x":{"datum":0,"type":"quantitative","scale":{"domain":[0,1],"range":[-73,65]},"axis":null},"y":{"datum":0.81,"type":"quantitative","scale":{"domain":[0,1]},"axis":null}}},
          {"mark":{"type":"text","text":"WT DST","align":"left","dx":15,"fontWeight":"bold","fontSize":21,"baseline":"middle"},
           "encoding":{"x":{"datum":0,"type":"quantitative","scale":{"domain":[0,1],"range":[-73,65]},"axis":null},"y":{"datum":0.505,"type":"quantitative","scale":{"domain":[0,1]},"axis":null}}},
          {"mark":{"type":"text","text":"KO DST","align":"left","dx":15,"fontWeight":"bold","fontSize":21,"baseline":"middle"},
           "encoding":{"x":{"datum":0,"type":"quantitative","scale":{"domain":[0,1],"range":[-73,65]},"axis":null},"y":{"datum":0.185,"type":"quantitative","scale":{"domain":[0,1]},"axis":null}}},
          {"mark":{"type":"rule","strokeWidth":2,"color":"black"},
           "encoding":{"x":{"datum":0.891,"type":"quantitative","scale":{"domain":[0,1],"range":[-73,65]},"axis":null},"y":{"datum":0.264,"type":"quantitative","scale":{"domain":[0,1]},"axis":null},"y2":{"datum":0.94}}},
          {"mark":{"type":"point","shape":"triangle-up","filled":true,"color":"black","size":220,"opacity":1},
           "encoding":{"x":{"datum":0.891,"type":"quantitative","scale":{"domain":[0,1],"range":[-73,65]},"axis":null},"y":{"datum":0.955,"type":"quantitative","scale":{"domain":[0,1]},"axis":null}}},
          {"mark":{"type":"text","text":"# cells","angle":270,"fontWeight":"bold","fontSize":20,"baseline":"middle"},
           "encoding":{"x":{"datum":0.891,"type":"quantitative","scale":{"domain":[0,1],"range":[-73,65]},"axis":null},"y":{"datum":0.138,"type":"quantitative","scale":{"domain":[0,1]},"axis":null}}}
        ]
      },
      {
        "data": {"values": [
          {"row":"Non-DST","cell":"CD4","x":0,"y":0},{"row":"Non-DST","cell":"CD4","x":0.76,"y":0},{"row":"Non-DST","cell":"CD4","x":0.8,"y":0.01},{"row":"Non-DST","cell":"CD4","x":0.83,"y":0.06},{"row":"Non-DST","cell":"CD4","x":0.855,"y":0.15},{"row":"Non-DST","cell":"CD4","x":0.87,"y":0.18},{"row":"Non-DST","cell":"CD4","x":0.885,"y":0.1},{"row":"Non-DST","cell":"CD4","x":0.9,"y":0.3},{"row":"Non-DST","cell":"CD4","x":0.92,"y":0.62},{"row":"Non-DST","cell":"CD4","x":0.936,"y":0.76},{"row":"Non-DST","cell":"CD4","x":0.95,"y":0.58},{"row":"Non-DST","cell":"CD4","x":0.963,"y":0.25},{"row":"Non-DST","cell":"CD4","x":0.975,"y":0.04},{"row":"Non-DST","cell":"CD4","x":0.99,"y":0},{"row":"Non-DST","cell":"CD4","x":1,"y":0},
          {"row":"Non-DST","cell":"CD8","x":0,"y":0},{"row":"Non-DST","cell":"CD8","x":0.25,"y":0},{"row":"Non-DST","cell":"CD8","x":0.27,"y":0.03},{"row":"Non-DST","cell":"CD8","x":0.3,"y":0.07},{"row":"Non-DST","cell":"CD8","x":0.33,"y":0.09},{"row":"Non-DST","cell":"CD8","x":0.36,"y":0.07},{"row":"Non-DST","cell":"CD8","x":0.39,"y":0.04},{"row":"Non-DST","cell":"CD8","x":0.42,"y":0},{"row":"Non-DST","cell":"CD8","x":0.68,"y":0},{"row":"Non-DST","cell":"CD8","x":0.71,"y":0.03},{"row":"Non-DST","cell":"CD8","x":0.74,"y":0.08},{"row":"Non-DST","cell":"CD8","x":0.76,"y":0.12},{"row":"Non-DST","cell":"CD8","x":0.78,"y":0.18},{"row":"Non-DST","cell":"CD8","x":0.8,"y":0.1},{"row":"Non-DST","cell":"CD8","x":0.82,"y":0.22},{"row":"Non-DST","cell":"CD8","x":0.84,"y":0.28},{"row":"Non-DST","cell":"CD8","x":0.855,"y":0.31},{"row":"Non-DST","cell":"CD8","x":0.87,"y":0.15},{"row":"Non-DST","cell":"CD8","x":0.885,"y":0.45},{"row":"Non-DST","cell":"CD8","x":0.9,"y":0.72},{"row":"Non-DST","cell":"CD8","x":0.914,"y":0.81},{"row":"Non-DST","cell":"CD8","x":0.93,"y":0.6},{"row":"Non-DST","cell":"CD8","x":0.945,"y":0.25},{"row":"Non-DST","cell":"CD8","x":0.96,"y":0.02},{"row":"Non-DST","cell":"CD8","x":0.98,"y":0},{"row":"Non-DST","cell":"CD8","x":1,"y":0},
          {"row":"WT DST","cell":"CD4","x":0,"y":0},{"row":"WT DST","cell":"CD4","x":0.8,"y":0},{"row":"WT DST","cell":"CD4","x":0.825,"y":0.04},{"row":"WT DST","cell":"CD4","x":0.845,"y":0.13},{"row":"WT DST","cell":"CD4","x":0.86,"y":0.14},{"row":"WT DST","cell":"CD4","x":0.875,"y":0.07},{"row":"WT DST","cell":"CD4","x":0.89,"y":0.25},{"row":"WT DST","cell":"CD4","x":0.905,"y":0.62},{"row":"WT DST","cell":"CD4","x":0.922,"y":0.84},{"row":"WT DST","cell":"CD4","x":0.937,"y":0.7},{"row":"WT DST","cell":"CD4","x":0.95,"y":0.3},{"row":"WT DST","cell":"CD4","x":0.965,"y":0.04},{"row":"WT DST","cell":"CD4","x":0.98,"y":0},{"row":"WT DST","cell":"CD4","x":1,"y":0},
          {"row":"WT DST","cell":"CD8","x":0,"y":0},{"row":"WT DST","cell":"CD8","x":0.26,"y":0},{"row":"WT DST","cell":"CD8","x":0.29,"y":0.03},{"row":"WT DST","cell":"CD8","x":0.33,"y":0.05},{"row":"WT DST","cell":"CD8","x":0.38,"y":0.03},{"row":"WT DST","cell":"CD8","x":0.43,"y":0.04},{"row":"WT DST","cell":"CD8","x":0.47,"y":0.01},{"row":"WT DST","cell":"CD8","x":0.5,"y":0},{"row":"WT DST","cell":"CD8","x":0.67,"y":0},{"row":"WT DST","cell":"CD8","x":0.69,"y":0.06},{"row":"WT DST","cell":"CD8","x":0.71,"y":0.1},{"row":"WT DST","cell":"CD8","x":0.73,"y":0.04},{"row":"WT DST","cell":"CD8","x":0.75,"y":0.17},{"row":"WT DST","cell":"CD8","x":0.77,"y":0.2},{"row":"WT DST","cell":"CD8","x":0.79,"y":0.1},{"row":"WT DST","cell":"CD8","x":0.81,"y":0.22},{"row":"WT DST","cell":"CD8","x":0.83,"y":0.28},{"row":"WT DST","cell":"CD8","x":0.85,"y":0.12},{"row":"WT DST","cell":"CD8","x":0.87,"y":0.4},{"row":"WT DST","cell":"CD8","x":0.89,"y":0.68},{"row":"WT DST","cell":"CD8","x":0.905,"y":0.75},{"row":"WT DST","cell":"CD8","x":0.92,"y":0.55},{"row":"WT DST","cell":"CD8","x":0.935,"y":0.2},{"row":"WT DST","cell":"CD8","x":0.95,"y":0.02},{"row":"WT DST","cell":"CD8","x":0.97,"y":0},{"row":"WT DST","cell":"CD8","x":1,"y":0},
          {"row":"KO DST","cell":"CD4","x":0,"y":0},{"row":"KO DST","cell":"CD4","x":0.38,"y":0},{"row":"KO DST","cell":"CD4","x":0.39,"y":0.01},{"row":"KO DST","cell":"CD4","x":0.4,"y":0},{"row":"KO DST","cell":"CD4","x":0.8,"y":0},{"row":"KO DST","cell":"CD4","x":0.825,"y":0.04},{"row":"KO DST","cell":"CD4","x":0.845,"y":0.12},{"row":"KO DST","cell":"CD4","x":0.86,"y":0.13},{"row":"KO DST","cell":"CD4","x":0.875,"y":0.06},{"row":"KO DST","cell":"CD4","x":0.89,"y":0.25},{"row":"KO DST","cell":"CD4","x":0.905,"y":0.62},{"row":"KO DST","cell":"CD4","x":0.922,"y":0.82},{"row":"KO DST","cell":"CD4","x":0.937,"y":0.68},{"row":"KO DST","cell":"CD4","x":0.95,"y":0.3},{"row":"KO DST","cell":"CD4","x":0.965,"y":0.03},{"row":"KO DST","cell":"CD4","x":0.98,"y":0},{"row":"KO DST","cell":"CD4","x":1,"y":0},
          {"row":"KO DST","cell":"CD8","x":0,"y":0},{"row":"KO DST","cell":"CD8","x":0.28,"y":0},{"row":"KO DST","cell":"CD8","x":0.31,"y":0.05},{"row":"KO DST","cell":"CD8","x":0.34,"y":0.07},{"row":"KO DST","cell":"CD8","x":0.37,"y":0.04},{"row":"KO DST","cell":"CD8","x":0.4,"y":0.06},{"row":"KO DST","cell":"CD8","x":0.43,"y":0.04},{"row":"KO DST","cell":"CD8","x":0.47,"y":0.05},{"row":"KO DST","cell":"CD8","x":0.52,"y":0.04},{"row":"KO DST","cell":"CD8","x":0.57,"y":0.05},{"row":"KO DST","cell":"CD8","x":0.62,"y":0.04},{"row":"KO DST","cell":"CD8","x":0.66,"y":0.04},{"row":"KO DST","cell":"CD8","x":0.69,"y":0.12},{"row":"KO DST","cell":"CD8","x":0.71,"y":0.04},{"row":"KO DST","cell":"CD8","x":0.73,"y":0.25},{"row":"KO DST","cell":"CD8","x":0.75,"y":0.38},{"row":"KO DST","cell":"CD8","x":0.77,"y":0.15},{"row":"KO DST","cell":"CD8","x":0.79,"y":0.1},{"row":"KO DST","cell":"CD8","x":0.81,"y":0.32},{"row":"KO DST","cell":"CD8","x":0.83,"y":0.45},{"row":"KO DST","cell":"CD8","x":0.85,"y":0.2},{"row":"KO DST","cell":"CD8","x":0.865,"y":0.08},{"row":"KO DST","cell":"CD8","x":0.88,"y":0.35},{"row":"KO DST","cell":"CD8","x":0.9,"y":0.6},{"row":"KO DST","cell":"CD8","x":0.92,"y":0.4},{"row":"KO DST","cell":"CD8","x":0.94,"y":0.1},{"row":"KO DST","cell":"CD8","x":0.955,"y":0},{"row":"KO DST","cell":"CD8","x":1,"y":0}
        ]},
        "spacing": 0,
        "bounds": "flush",
        "title": {"text": "CFSE", "orient": "bottom", "anchor": "middle", "fontSize": 21, "offset": -8, "baseline": "top"},
        "facet": {
          "row": {"field":"row","type":"nominal","sort":["Non-DST","WT DST","KO DST"],"header":{"labels":false,"title":null,"labelPadding":0,"titlePadding":0}},
          "column": {"field":"cell","type":"nominal","sort":["CD4","CD8"],"header":{"title":null,"labelPadding":6}}
        },
        "spec": {
          "width": 150, "height": 92,
          "view": {"stroke": "black", "strokeWidth": 5},
          "mark": {"type":"line","color":"black","strokeWidth":2.5,"interpolate":"monotone"},
          "encoding": {
            "x": {"field":"x","type":"quantitative","scale":{"domain":[0,1]},"axis":null},
            "y": {"field":"y","type":"quantitative","scale":{"domain":[0,1]},"axis":null}
          }
        }
      }
    ]
  }
  ]
}
]
}
